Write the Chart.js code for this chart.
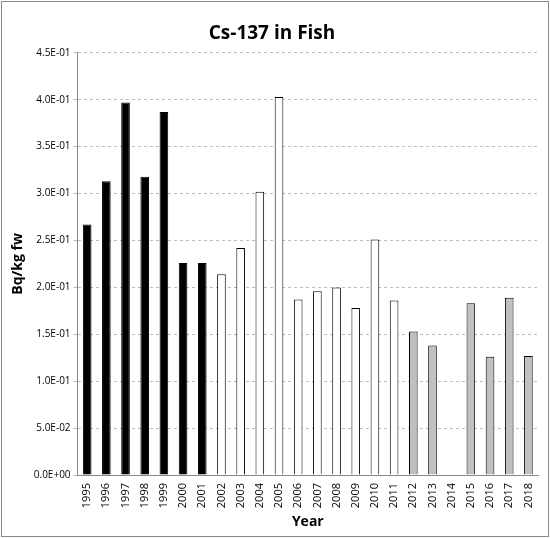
<!DOCTYPE html>
<html>
<head>
<meta charset="utf-8">
<script src="https://cdn.jsdelivr.net/npm/chart.js@4"></script>
<style>
  body { margin: 0; background: #fff; }
  #wrap { position: absolute; left: 1px; top: 1px; width: 546px; height: 534px; border: 1px solid #888; }
</style>
</head>
<body>
<div id="wrap"><canvas id="chart"></canvas></div>
<script>
const years = ['1995','1996','1997','1998','1999','2000','2001','2002','2003','2004','2005','2006',
  '2007','2008','2009','2010','2011','2012','2013','2014','2015','2016','2017','2018'];
const values = [0.267, 0.313, 0.397, 0.318, 0.387, 0.226, 0.226, 0.214, 0.242, 0.302, 0.403, 0.187,
  0.196, 0.200, 0.178, 0.251, 0.186, 0.153, 0.138, null, 0.183, 0.126, 0.189, 0.127];
// period groups: 0 = black, 1 = white, 2 = grey
const groups = [0,0,0,0,0,0,0,1,1,1,1,1,1,1,1,1,1,2,2,2,2,2,2,2];
const fills = ['#000000', '#ffffff', '#c0c0c0'];

function sci(v) {
  if (v === 0) return '0.0E+00';
  const e = Math.floor(Math.log10(v) + 1e-9);
  const m = v / Math.pow(10, e);
  const sign = e < 0 ? '-' : '+';
  return m.toFixed(1) + 'E' + sign + String(Math.abs(e)).padStart(2, '0');
}

const font = "'Open Sans', 'DejaVu Sans', sans-serif";

new Chart(document.getElementById('chart'), {
  type: 'bar',
  data: {
    labels: years,
    datasets: [{
      data: values,
      backgroundColor: groups.map(g => fills[g]),
      borderColor: '#000',
      borderWidth: 1,
      barPercentage: 0.45,
      categoryPercentage: 1
    }]
  },
  options: {
    responsive: true,
    maintainAspectRatio: false,
    animation: false,
    layout: { padding: { left: 4, right: 10, top: 4, bottom: 2 } },
    plugins: {
      legend: { display: false },
      tooltip: { enabled: false },
      title: {
        display: true, text: 'Cs-137 in Fish', color: '#000',
        font: { family: font, size: 19, weight: 'bold' },
        padding: { top: 16, bottom: 8 }
      }
    },
    scales: {
      x: {
        grid: { display: false, drawTicks: true, tickLength: 5 },
        border: { color: '#888' },
        ticks: { color: '#000', maxRotation: 90, minRotation: 90, font: { family: font, size: 11 } },
        title: { display: true, text: 'Year', color: '#000', font: { family: font, size: 14, weight: 'bold' }, padding: { top: 2 } }
      },
      y: {
        min: 0, max: 0.45,
        grid: { color: '#bbb', tickLength: 4 },
        border: { color: '#888', dash: [3, 3] },
        ticks: { stepSize: 0.05, color: '#000', font: { family: font, size: 10 }, callback: v => sci(v) },
        title: { display: true, text: 'Bq/kg fw', color: '#000', font: { family: font, size: 14, weight: 'bold' } }
      }
    }
  }
});
</script>
</body>
</html>
